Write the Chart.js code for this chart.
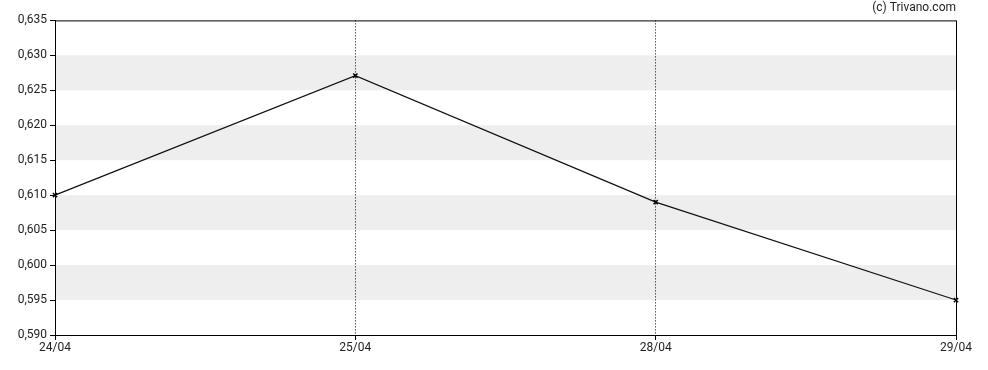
<!DOCTYPE html>
<html>
<head>
<meta charset="utf-8">
<script src="https://cdn.jsdelivr.net/npm/chart.js@4"></script>
<style>
  html, body { margin: 0; padding: 0; background: #fff; }
  #wrap { width: 988px; height: 370px; position: relative; }
</style>
</head>
<body>
<div id="wrap"><canvas id="priceChart"></canvas></div>
<script>
const dates = ['24/04', '25/04', '28/04', '29/04'];
const prices = [0.610, 0.6271, 0.609, 0.595];
const yTicks = [0.590, 0.595, 0.600, 0.605, 0.610, 0.615, 0.620, 0.625, 0.630, 0.635];
const bands = [[0.595, 0.600], [0.605, 0.610], [0.615, 0.620], [0.625, 0.630]];

// grey stripes (under the grid) + frame around the plot
const stripes = {
  id: 'stripes',
  beforeDraw(chart) {
    const { ctx, chartArea, scales } = chart;
    ctx.save();
    ctx.fillStyle = '#eeeeee';
    bands.forEach(function(b) {
      const y1 = scales.y.getPixelForValue(b[1]);
      const y0 = scales.y.getPixelForValue(b[0]);
      ctx.fillRect(chartArea.left, y1, chartArea.right - chartArea.left, y0 - y1);
    });
    ctx.restore();
  },
  afterDatasetsDraw(chart) {
    const { ctx, chartArea } = chart;
    ctx.save();
    ctx.strokeStyle = '#000';
    ctx.lineWidth = 1;
    ctx.strokeRect(chartArea.left + 0.5, chartArea.top + 0.5,
      chartArea.right - chartArea.left, chartArea.bottom - chartArea.top);
    ctx.restore();
  }
};

new Chart(document.getElementById('priceChart').getContext('2d'), {
  type: 'line',
  data: {
    labels: dates,
    datasets: [{
      data: prices,
      borderColor: '#111',
      borderWidth: 1.2,
      tension: 0,
      pointStyle: 'crossRot',
      pointRadius: 3,
      pointBorderColor: '#000',
      pointBorderWidth: 1.5
    }]
  },
  options: {
    responsive: true,
    maintainAspectRatio: false,
    animation: false,
    layout: { padding: { left: 0, right: 32, top: 0, bottom: 0 } },
    plugins: {
      legend: { display: false },
      tooltip: { enabled: false },
      title: {
        display: true,
        text: '(c) Trivano.com',
        align: 'end',
        color: '#222',
        font: { family: 'Roboto', size: 12, weight: 'normal' },
        padding: { top: 1, bottom: 5 }
      }
    },
    scales: {
      x: {
        offset: false,
        border: { display: true, color: '#000', width: 1, dash: [1, 2] },
        grid: {
          color: function(c) {
            return (c.index === 0 || c.index === dates.length - 1) ? 'rgba(0,0,0,0)' : '#000';
          },
          tickColor: '#000',
          tickBorderDash: [],
          tickLength: 5
        },
        ticks: {
          color: '#222',
          font: { family: 'Roboto', size: 12 },
          padding: 1,
          maxRotation: 0
        },
        afterFit(scale) { scale.height = 35; }
      },
      y: {
        min: 0.590,
        max: 0.635,
        border: { display: true, color: '#000', width: 1 },
        afterBuildTicks(scale) {
          scale.ticks = yTicks.map(v => ({ value: v }));
        },
        grid: {
          drawOnChartArea: false,
          color: '#000',
          tickColor: '#000',
          tickLength: 5
        },
        ticks: {
          color: '#222',
          font: { family: 'Roboto', size: 12 },
          padding: 3,
          callback: function(v) { return v.toFixed(3).replace('.', ','); }
        },
        afterFit(scale) { scale.width = 55; }
      }
    }
  },
  plugins: [stripes]
});
</script>
</body>
</html>
